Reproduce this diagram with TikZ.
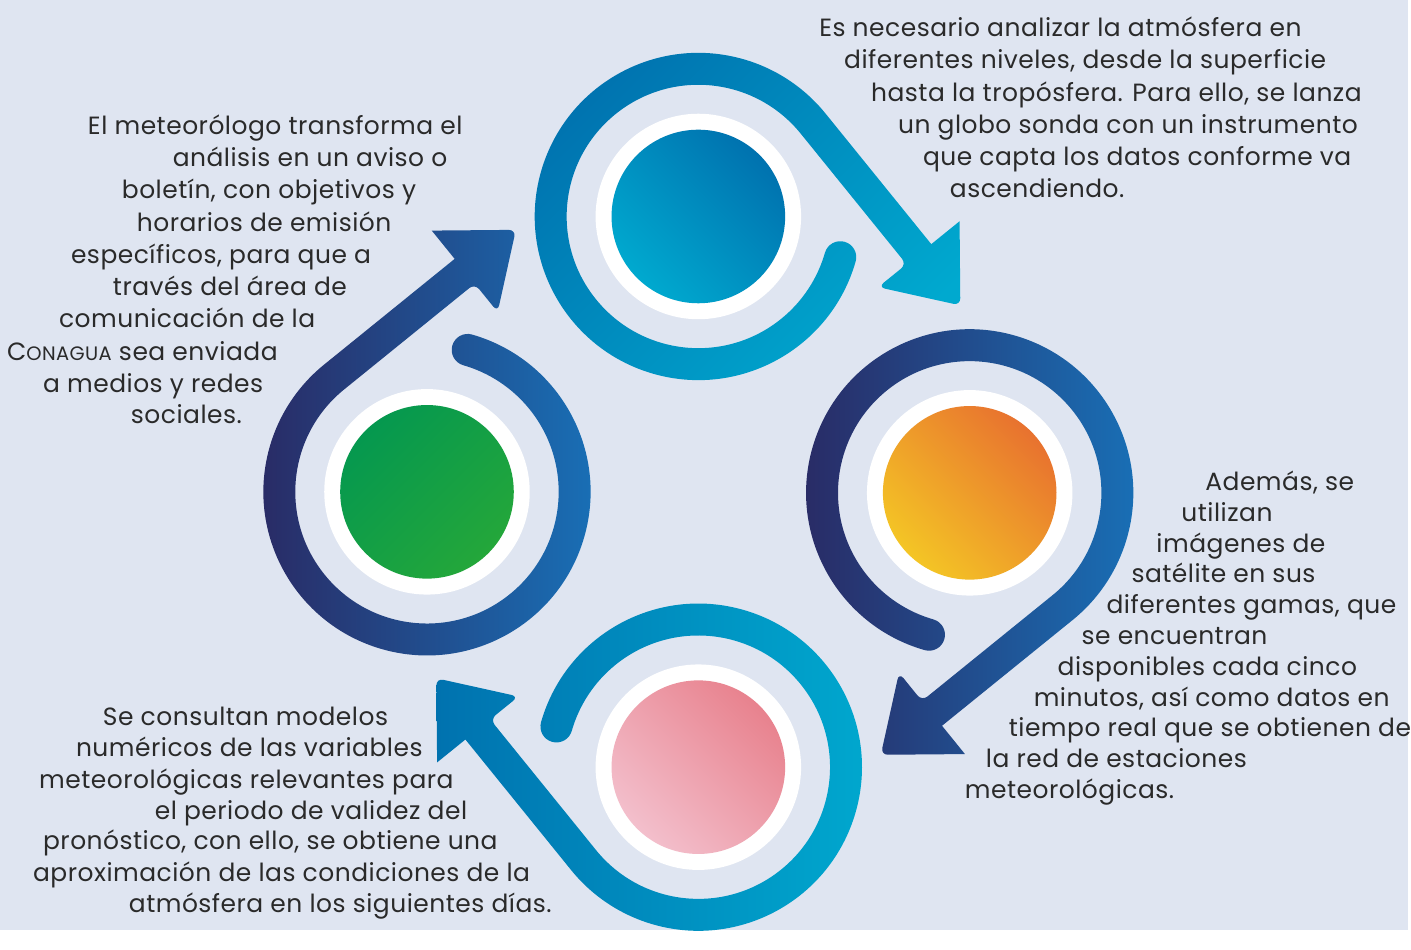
\documentclass[tikz,border=0pt]{standalone}
\usepackage{fontspec}
\setmainfont{Poppins}[LetterSpace=2]
\usetikzlibrary{shapes.geometric}

\definecolor{bgpanel}{HTML}{DFE5F1}
\definecolor{inktext}{HTML}{2A2A2A}
\definecolor{seadark}{HTML}{0072AF}
\definecolor{seacyan}{HTML}{00A9CF}
\definecolor{nightnavy}{HTML}{2A2862}
\definecolor{nightblue}{HTML}{1872B9}
\definecolor{sunorange}{HTML}{E8722F}
\definecolor{sunyellow}{HTML}{F4C525}
\definecolor{rosedark}{HTML}{E8828E}
\definecolor{roselight}{HTML}{F3BFCC}
\definecolor{leafdark}{HTML}{05984F}
\definecolor{leaflight}{HTML}{24A73A}

% looped band with arrow head: #1 centre, #2 turn, #3 shading
\newcommand{\cyclearrow}[3]{%
  \begin{scope}[shift={#1}]
    \shade[#3] ({-16+#2}:164)
      arc[start angle={-16+#2}, end angle={-321+#2}, radius=164]
      -- ++({-51+#2}:168.5) -- ++({39+#2}:36.5)
      [rounded corners=7pt] -- ++({-89.5+#2}:84.33) -- ++({167.5+#2}:84.33)
      -- ++({39+#2}:36.5) [sharp corners] -- ++({129+#2}:168.5)
      arc[start angle={-321+#2}, end angle={-16+#2}, radius=132]
      arc[start angle={164+#2}, end angle={-16+#2}, radius=16] -- cycle;
  \end{scope}}

\tikzset{
  ring/.style={circle, fill=white, minimum size=206pt, inner sep=0pt},
  disc/.style={circle, minimum size=174pt, inner sep=0pt},
  txt/.style={anchor=base west, inner sep=0pt, text=inktext,
    font=\fontsize{25}{30}\selectfont}
}

\begin{document}
\begin{tikzpicture}[x=1pt, y=1pt]
  \fill[bgpanel] (0,0) rectangle (1411,932);

  % the four loops
  \cyclearrow{(700,715)}{0}{top color=seadark, bottom color=seacyan, shading angle=45}
  \cyclearrow{(972,438)}{-90}{left color=nightnavy, right color=nightblue}
  \cyclearrow{(700,163)}{-180}{left color=seadark, right color=seacyan}
  \cyclearrow{(428,439)}{90}{left color=nightnavy, right color=nightblue}

  \node[ring] (sondaring) at (700,715) {};
  \node[ring] (satring) at (972,438) {};
  \node[ring] (modelring) at (700,163) {};
  \node[ring] (avisoring) at (428,439) {};

  \node[disc, top color=seadark, bottom color=seacyan, shading angle=-45] (sonda) at (700,715) {};
  \node[disc, top color=sunorange, bottom color=sunyellow, shading angle=-45] (satelite) at (972,438) {};
  \node[disc, top color=rosedark, bottom color=roselight, shading angle=-45] (modelo) at (700,163) {};
  \node[disc, top color=leafdark, bottom color=leaflight, shading angle=45] (aviso) at (428,439) {};

  % texts
  \foreach \x/\y/\t [count=\i] in {
      821/895/{Es necesario analizar la atmósfera en},
      846/863/{diferentes niveles, desde la superficie},
      873/830/{hasta la tropósfera. Para ello, se lanza},
      900/798/{un globo sonda con un instrumento},
      925/766/{que capta los datos conforme va},
      952/734/{ascendiendo.}}
    \node[txt] (sondatxt\i) at (\x,\y) {\t};

  \foreach \x/\y/\t [count=\i] in {
      1208/440/{Además, se},
      1184/409/{utilizan},
      1159/378/{imágenes de},
      1134/348/{satélite en sus},
      1109/317/{diferentes gamas, que},
      1084/286/{se encuentran},
      1060/255/{disponibles cada cinco},
      1036/224/{minutos, así como datos en},
      1011/194/{tiempo real que se obtienen de},
      988/163/{la red de estaciones},
      967/132/{meteorológicas.}}
    \node[txt] (sattxt\i) at (\x,\y) {\t};

  \foreach \x/\y/\t [count=\i] in {
      103/205/{Se consultan modelos},
      76/174/{numéricos de las variables},
      39/142/{meteorológicas relevantes para},
      155/111/{el periodo de validez del},
      43/80/{pronóstico, con ello, se obtiene una},
      33/48/{aproximación de las condiciones de la},
      129/17/{atmósfera en los siguientes días.}}
    \node[txt] (modelotxt\i) at (\x,\y) {\t};

  \foreach \x/\y/\t [count=\i] in {
      88/797/{El meteorólogo transforma el},
      173/765/{análisis en un aviso o},
      122/733/{boletín, con objetivos y},
      137/700/{horarios de emisión},
      71/668/{específicos, para que a},
      113/636/{través del área de},
      59/604/{comunicación de la},
      7/571/{C{\fontsize{19.5}{19.5}\selectfont ONAGUA} sea enviada},
      43/539/{a medios y redes},
      131/507/{sociales.}}
    \node[txt] (avisotxt\i) at (\x,\y) {\t};
\end{tikzpicture}
\end{document}
